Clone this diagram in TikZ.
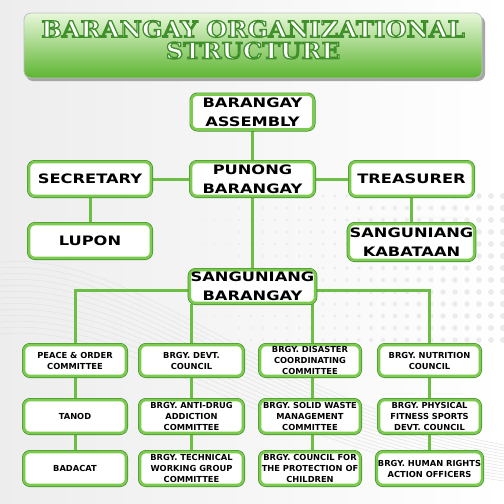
\documentclass[tikz,border=0pt]{standalone}
\usepackage{fontspec}
\newfontfamily\titlefont[FakeStretch=1.08]{DejaVu Serif}
\newfontfamily\boxfont[FakeStretch=1.25]{DejaVu Sans}
\newfontfamily\smallfont{DejaVu Sans}
\definecolor{lg}{HTML}{7CCB4E}
\definecolor{dg}{HTML}{3F8F2A}
\definecolor{cn}{HTML}{6DBE45}
\definecolor{bannertop}{HTML}{E8F7DA}
\definecolor{bannerbot}{HTML}{5DB531}
\newcommand{\outlinetext}[1]{\special{pdf:literal direct 2 Tr 1.3 w 0.247 0.561 0.165 RG}#1\special{pdf:literal direct 0 Tr}}
\pgfdeclarelayer{bg}
\pgfdeclarelayer{conn}
\pgfsetlayers{bg,conn,main}
\begin{document}
\begin{tikzpicture}[x=1pt,y=-1pt,
  boxbase/.style={rounded corners=6pt, fill=white, draw=lg, line width=2.6pt,
    preaction={draw=dg, line width=4pt}, align=center, inner sep=1pt},
  big/.style={boxbase, font=\boxfont\bfseries\fontsize{13}{19}\selectfont},
  small/.style={boxbase, minimum height=33pt, font=\smallfont\bfseries\fontsize{8.3}{11}\selectfont},
  titletext/.style={font=\titlefont\bfseries\fontsize{22.5}{22.5}\selectfont, text=white, inner sep=0pt},
  conn/.style={draw=cn, line width=3pt}]
\useasboundingbox (0,0) rectangle (504,504);
\begin{pgfonlayer}{bg}
  \shade[left color=gray!14, right color=white] (0,0) rectangle (504,504);
  \foreach \i in {0,...,29} \foreach \j in {0,...,12} {
    \pgfmathsetmacro\r{0.4+\i*0.09}
    \fill[gray!16] (155+\i*12, 196+\j*12) circle (\r pt);
  }
  \foreach \k in {0,...,12} {
    \draw[gray!22, line width=0.5pt] (0,262+\k*6) .. controls (140,250+\k*6) and (260,400+\k*4) .. (504,445+\k*3);
  }
  % banner
  \fill[black!35, rounded corners=7pt] (26,16) rectangle (485,81);
  \shade[top color=bannertop, bottom color=bannerbot, rounded corners=7pt, draw=gray!50, line width=0.8pt] (24,13) rectangle (482,78);
\end{pgfonlayer}
\node[titletext] (t1) at (253,29) {\outlinetext{BARANGAY ORGANIZATIONAL}};
\node[titletext] (t2) at (253,50.5) {\outlinetext{STRUCTURE}};

\node[big, minimum width=122pt, minimum height=35pt] (ba) at (252.5,112) {BARANGAY\\ASSEMBLY};
\node[big, minimum width=123pt, minimum height=34pt] (pb) at (252.5,179) {PUNONG\\BARANGAY};
\node[big, minimum width=122pt, minimum height=34pt] (sec) at (90,179) {SECRETARY};
\node[big, minimum width=123pt, minimum height=34pt] (tre) at (411.5,179) {TREASURER};
\node[big, minimum width=122pt, minimum height=34pt] (lup) at (90,241) {LUPON};
\node[big, minimum width=123pt, minimum height=36pt] (sk) at (411.5,242) {SANGUNIANG\\KABATAAN};
\node[big, minimum width=123pt, minimum height=33pt] (sb) at (252.5,286.5) {SANGUNIANG\\BARANGAY};

\node[small, minimum width=102pt, minimum height=31pt] (a1) at (75,360.5) {PEACE \& ORDER\\COMMITTEE};
\node[small, minimum width=103pt, minimum height=31pt] (b1) at (191.5,360.5) {BRGY. DEVT.\\COUNCIL};
\node[small, minimum width=100pt, minimum height=31pt] (c1) at (310,360.5) {BRGY. DISASTER\\COORDINATING\\COMMITTEE};
\node[small, minimum width=101pt, minimum height=31pt] (d1) at (429.5,360.5) {BRGY. NUTRITION\\COUNCIL};

\node[small, minimum width=102pt] (a2) at (75,416.5) {TANOD};
\node[small, minimum width=103pt] (b2) at (191.5,416.5) {BRGY. ANTI-DRUG\\ADDICTION\\COMMITTEE};
\node[small, minimum width=100pt] (c2) at (310,416.5) {BRGY. SOLID WASTE\\MANAGEMENT\\COMMITTEE};
\node[small, minimum width=101pt] (d2) at (429.5,416.5) {BRGY. PHYSICAL\\FITNESS SPORTS\\DEVT. COUNCIL};

\node[small, minimum width=102pt] (a3) at (75,468.5) {BADACAT};
\node[small, minimum width=103pt] (b3) at (191.5,468.5) {BRGY. TECHNICAL\\WORKING GROUP\\COMMITTEE};
\node[small, minimum width=100pt] (c3) at (310,468.5) {BRGY. COUNCIL FOR\\THE PROTECTION OF\\CHILDREN};
\node[small, minimum width=101pt] (d3) at (429.5,468.5) {BRGY. HUMAN RIGHTS\\ACTION OFFICERS};

\begin{pgfonlayer}{conn}
  \draw[conn] (ba) -- (pb);
  \draw[conn] (sec) -- (pb);
  \draw[conn] (pb) -- (tre);
  \draw[conn] (sec) -- (lup);
  \draw[conn] (tre) -- (sk);
  \draw[conn] (pb) -- (sb);
  \draw[conn] ([yshift=-3.5pt]sb.west) -| (a1.north);
  \draw[conn] ([yshift=-3.5pt]sb.east) -| (d1.north);
  \draw[conn] (b1.north |- sb.south) -- (b1.north);
  \draw[conn] ([xshift=2pt]c1.north |- sb.south) -- ([xshift=2pt]c1.north);
  \draw[conn] (a1) -- (a2) -- (a3);
  \draw[conn] (b1) -- (b2) -- (b3);
  \draw[conn] ([xshift=2pt]c1.center) -- ([xshift=2pt]c3.center);
  \draw[conn] (d1) -- (d2) -- (d3);
\end{pgfonlayer}
\end{tikzpicture}
\end{document}
